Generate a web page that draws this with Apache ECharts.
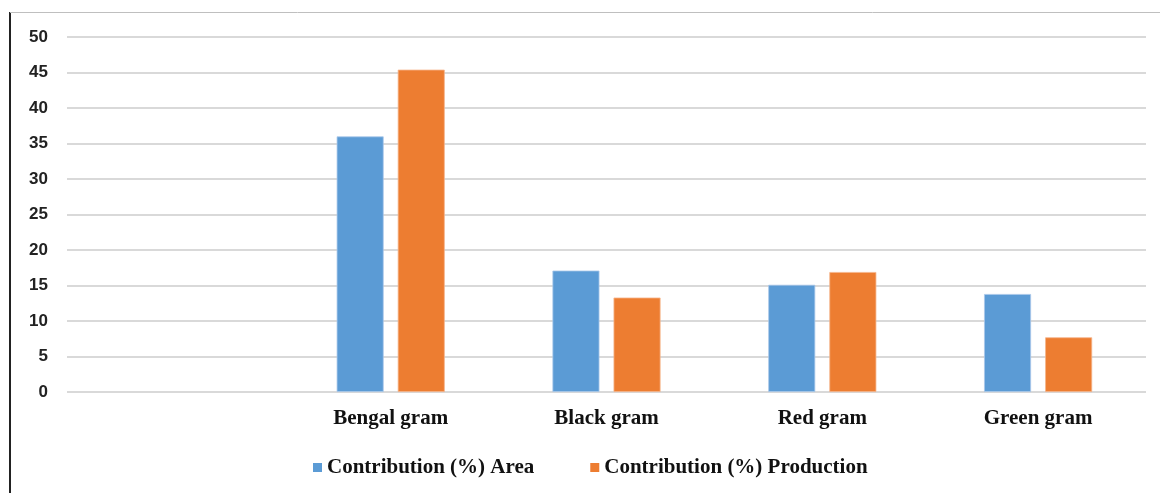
<!DOCTYPE html>
<html>
<head>
<meta charset="utf-8">
<script src="https://cdn.jsdelivr.net/npm/echarts@6/dist/echarts.min.js"></script>
<style>
  html, body { margin: 0; padding: 0; background: #fff; }
  #chart { width: 1160px; height: 493px; }
</style>
</head>
<body>
<div id="chart"></div>
<script>
// Pulse crops: share of area and production (%)
const categories = ['', 'Bengal gram', 'Black gram', 'Red gram', 'Green gram'];
const areaShare = [null, 36.0, 17.1, 15.1, 13.8];
const productionShare = [null, 45.4, 13.3, 16.9, 7.7];
const yTicks = { min: 0, max: 50, interval: 5 };
const seriesNames = ['Contribution (%) Area', 'Contribution (%) Production'];

const chart = echarts.init(document.getElementById('chart'), null, { renderer: 'canvas' });

const serif = '"Liberation Serif", "Times New Roman", serif';

chart.setOption({
  animation: false,
  backgroundColor: '#ffffff',
  grid: { left: 67, right: 14, top: 37, bottom: 101, containLabel: false },
  legend: {
    data: seriesNames,
    left: 308,
    top: 452,
    icon: 'rect',
    itemWidth: 9,
    itemHeight: 9,
    itemGap: 56,
    itemStyle: { borderWidth: 0 },
    textStyle: { fontFamily: serif, fontWeight: 'bold', fontSize: 21, color: '#111' }
  },
  xAxis: {
    type: 'category',
    data: categories,
    axisLine: { show: false },
    axisTick: { show: false },
    axisLabel: {
      margin: 16,
      fontFamily: serif,
      fontWeight: 'bold',
      fontSize: 21,
      color: '#111'
    }
  },
  yAxis: {
    type: 'value',
    min: yTicks.min,
    max: yTicks.max,
    interval: yTicks.interval,
    axisLine: { show: false },
    axisTick: { show: false },
    splitLine: { lineStyle: { color: '#d9d9d9', width: 2 } },
    axisLabel: {
      margin: 19,
      fontFamily: '"Liberation Sans", Arial, sans-serif',
      fontWeight: 'bold',
      fontSize: 17,
      color: '#222'
    }
  },
  series: [
    {
      name: seriesNames[0],
      type: 'bar',
      data: areaShare,
      barWidth: 47,
      barGap: '30%',
      itemStyle: { color: '#5b9bd5', borderColor: '#a9c8ea', borderWidth: 0.8 }
    },
    {
      name: seriesNames[1],
      type: 'bar',
      data: productionShare,
      barWidth: 47,
      barGap: '30%',
      itemStyle: { color: '#ed7d31', borderColor: '#f5b48a', borderWidth: 0.8 }
    }
  ],
  graphic: [
    // outer frame: left rule and top rule
    { type: 'line', shape: { x1: 10, y1: 12, x2: 10, y2: 493 }, style: { stroke: '#222', lineWidth: 2 } },
    { type: 'line', shape: { x1: 10, y1: 12.5, x2: 1160, y2: 12.5 }, style: { stroke: '#bfbfbf', lineWidth: 1 } }
  ]
});
</script>
</body>
</html>
